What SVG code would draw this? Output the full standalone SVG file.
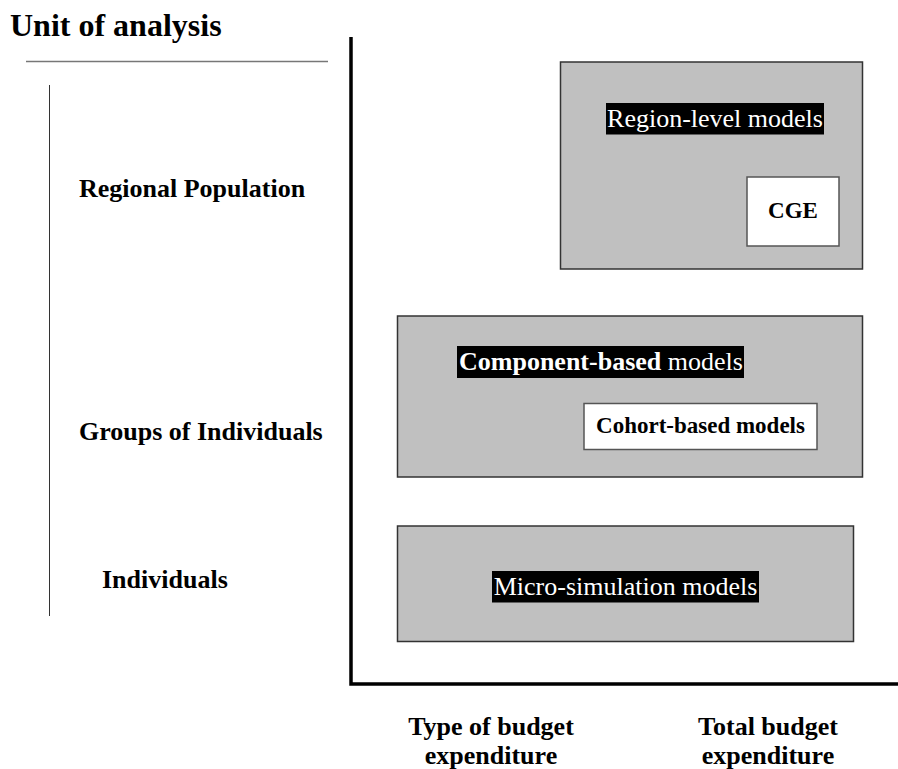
<svg xmlns="http://www.w3.org/2000/svg" width="898" height="769" viewBox="0 0 898 769" font-family="'Liberation Serif', 'Times New Roman', 'DejaVu Serif', serif">
<style>
  text { font-family: "Liberation Serif", "Times New Roman", "DejaVu Serif", serif; }
  .lbl { font-size: 26px; font-weight: bold; fill: #000; }
  .big { fill: #c0c0c0; stroke: #333; stroke-width: 1.5; }
  .inner { fill: #fff; stroke: #555; stroke-width: 1.5; }
  .hl { fill: #000; }
  .wt { font-size: 26px; fill: #fff; }
  .axis { stroke: #000; stroke-width: 3.5; fill: none; }
</style>
<rect width="898" height="769" fill="#fff"/>
<g id="axes">
  <text x="10" y="36" font-size="32" font-weight="bold" font-family="Liberation Serif, serif">Unit of analysis</text>
  <line x1="26" y1="61.5" x2="328" y2="61.5" stroke="#777" stroke-width="1.5"/>
  <line x1="49.5" y1="85" x2="49.5" y2="616" stroke="#333" stroke-width="1"/>
  <polyline class="axis" points="351,37 351,684 898,684"/>
</g>
<g id="row-labels">
  <text class="lbl" x="79" y="197">Regional Population</text>
  <text class="lbl" x="79" y="440">Groups of Individuals</text>
  <text class="lbl" x="102" y="588">Individuals</text>
</g>
<g id="col-labels">
  <text class="lbl" x="491" y="735" text-anchor="middle">Type of budget</text>
  <text class="lbl" x="491" y="764" text-anchor="middle">expenditure</text>
  <text class="lbl" x="768" y="735" text-anchor="middle">Total budget</text>
  <text class="lbl" x="768" y="764" text-anchor="middle">expenditure</text>
</g>
<g id="region-level">
  <rect class="big" x="560.5" y="62" width="302" height="207"/>
  <rect class="hl" x="606" y="103" width="218" height="31.5"/>
  <text class="wt" x="715" y="127" text-anchor="middle">Region-level models</text>
</g>
<g id="cge">
  <rect class="inner" x="747" y="177" width="92" height="69"/>
  <text x="793" y="218" text-anchor="middle" font-size="23" font-weight="bold">CGE</text>
</g>
<g id="component-based">
  <rect class="big" x="397.5" y="316" width="465" height="161"/>
  <rect class="hl" x="457" y="346" width="287" height="32"/>
  <text class="wt" x="459" y="370"><tspan font-weight="bold">Component-based</tspan> models</text>
</g>
<g id="cohort-based">
  <rect class="inner" x="584" y="403.5" width="233" height="46"/>
  <text x="700.5" y="433" text-anchor="middle" font-size="23" font-weight="bold">Cohort-based models</text>
</g>
<g id="micro-simulation">
  <rect class="big" x="397.5" y="526" width="456" height="115.5"/>
  <rect class="hl" x="492" y="571" width="267" height="31.5"/>
  <text class="wt" x="625.5" y="595" text-anchor="middle">Micro-simulation models</text>
</g>
</svg>
